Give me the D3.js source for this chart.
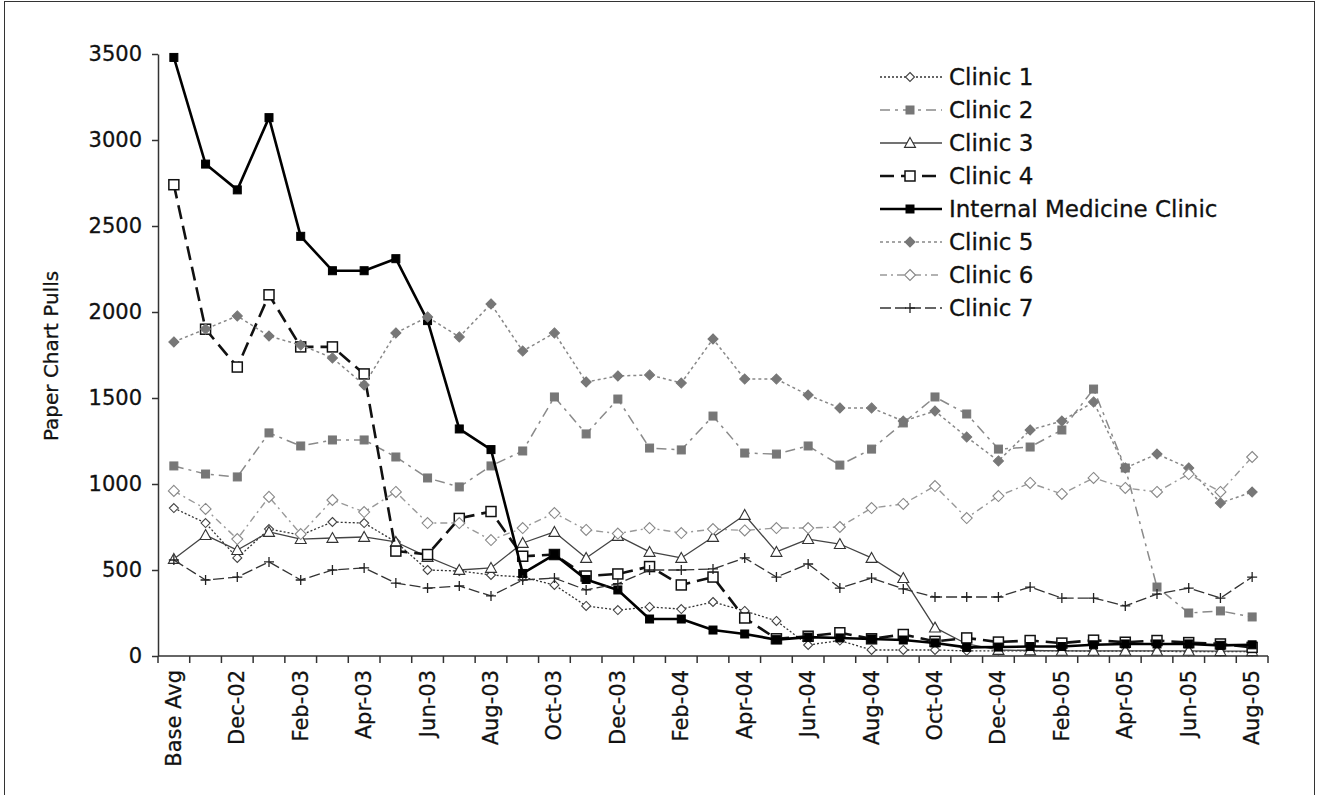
<!DOCTYPE html>
<html>
<head>
<meta charset="utf-8">
<script src="https://cdn.jsdelivr.net/npm/d3@7"></script>
<style>
  html, body { margin: 0; padding: 0; background: #fff; }
  svg { display: block; font-family: "DejaVu Sans", Verdana, sans-serif; }
</style>
</head>
<body>
<svg id="chart" width="1324" height="795"></svg>
<script>
// ---- data ----
const categories = ["Base Avg","Nov-02","Dec-02","Jan-03","Feb-03","Mar-03","Apr-03","May-03","Jun-03","Jul-03",
  "Aug-03","Sep-03","Oct-03","Nov-03","Dec-03","Jan-04","Feb-04","Mar-04","Apr-04","May-04","Jun-04","Jul-04",
  "Aug-04","Sep-04","Oct-04","Nov-04","Dec-04","Jan-05","Feb-05","Mar-05","Apr-05","May-05","Jun-05","Jul-05","Aug-05"];
const tickLabels = ["Base Avg","Dec-02","Feb-03","Apr-03","Jun-03","Aug-03","Oct-03","Dec-03","Feb-04","Apr-04",
  "Jun-04","Aug-04","Oct-04","Dec-04","Feb-05","Apr-05","Jun-05","Aug-05"];
const yTicks = [0, 500, 1000, 1500, 2000, 2500, 3000, 3500];

const clinic1 = [860,773,570,738,703,779,773,663,500,494,471,459,413,291,267,285,273,314,262,204,64,90,35,35,35,30,30,30,30,28,28,28,25,25,25];
const clinic2 = [1105,1058,1041,1297,1221,1256,1256,1157,1035,983,1105,1192,1506,1291,1494,1209,1198,1395,1180,1174,1221,1110,1203,1355,1506,1407,1203,1215,1314,1552,1093,401,250,262,227];
const clinic3 = [564,703,616,721,680,686,692,663,576,500,512,657,721,570,698,605,570,692,820,605,680,651,570,453,165,70,35,32,30,30,30,30,30,28,28];
const clinic4 = [2740,1900,1680,2100,1797,1797,1640,610,590,800,840,580,590,465,477,520,413,459,221,100,115,135,100,125,85,105,81,90,75,92,80,90,78,70,50];
const internalMed = [3480,2860,2710,3130,2440,2240,2240,2310,1950,1320,1200,480,590,445,384,215,215,151,128,95,110,105,99,93,76,50,52,55,55,65,70,70,70,62,65];
const clinic5 = [1826,1901,1977,1860,1808,1733,1576,1878,1971,1855,2047,1773,1878,1593,1628,1634,1587,1843,1610,1610,1517,1442,1442,1366,1424,1273,1134,1314,1366,1477,1093,1174,1093,890,953];
const clinic6 = [960,855,680,925,709,907,837,954,773,773,674,744,831,733,712,744,715,738,730,744,744,750,860,884,988,802,930,1006,942,1035,977,954,1058,954,1157];
const clinic7 = [558,442,459,547,442,500,512,424,395,407,349,442,453,384,420,500,500,506,570,459,535,395,453,390,343,343,343,401,337,337,291,360,395,337,459];

const seriesNames = ["Clinic 1","Clinic 2","Clinic 3","Clinic 4","Internal Medicine Clinic","Clinic 5","Clinic 6","Clinic 7"];
const seriesValues = [clinic1, clinic2, clinic3, clinic4, internalMed, clinic5, clinic6, clinic7];

// ---- styles ----
const styles = [
  {stroke:"#333", width:1.3, dash:"2,2", marker:"diamond", size:4.5, fill:"#fff", mstroke:"#444"},
  {stroke:"#8a8a8a", width:1.5, dash:"10,5,3,5", marker:"square", size:8, fill:"#777", mstroke:"#777"},
  {stroke:"#444", width:1.3, dash:null, marker:"triangle", size:5.5, fill:"#fff", mstroke:"#333"},
  {stroke:"#111", width:2.6, dash:"14,7", marker:"square", size:10, fill:"#fff", mstroke:"#111"},
  {stroke:"#000", width:2.6, dash:null, marker:"square", size:8, fill:"#000", mstroke:"#000"},
  {stroke:"#888", width:1.5, dash:"3,3", marker:"diamond", size:5, fill:"#777", mstroke:"#777"},
  {stroke:"#999", width:1.4, dash:"7,4,2,4", marker:"diamond", size:5.5, fill:"#fff", mstroke:"#888"},
  {stroke:"#333", width:1.3, dash:"11,4", marker:"plus", size:5, fill:"none", mstroke:"#222"}
];

const svg = d3.select("#chart");
// frame
svg.append("rect").attr("x",4.5).attr("y",1.5).attr("width",1310).attr("height",800)
  .attr("fill","none").attr("stroke","#333").attr("stroke-width",1);

const plotLeft = 158, plotRight = 1268, plotTop = 54, plotBottom = 656;
const x = d3.scaleBand().domain(categories).range([plotLeft, plotRight]);
const y = d3.scaleLinear().domain([0, 3500]).range([plotBottom, plotTop]);

// y axis
const yAxis = svg.append("g").attr("transform", `translate(${plotLeft},0)`)
  .call(d3.axisLeft(y).tickValues(yTicks).tickSize(6).tickSizeOuter(0).tickPadding(10).tickFormat(d3.format("d")));
yAxis.selectAll("path").attr("stroke","#333").attr("stroke-width",1.5);
yAxis.selectAll("line").attr("stroke","#333").attr("stroke-width",1.5);
yAxis.selectAll("text").attr("font-size",21).attr("fill","#111").attr("font-family","DejaVu Sans")
  .attr("stroke","#111").attr("stroke-width",0.3);

// x axis
const xAxisG = svg.append("g").attr("transform", `translate(0,${plotBottom})`);
xAxisG.append("line").attr("x1",plotLeft).attr("x2",plotRight).attr("y1",0).attr("y2",0)
  .attr("stroke","#333").attr("stroke-width",1.5);
const boundaries = categories.map(c => x(c)).concat([plotRight]);
xAxisG.selectAll("line.tk").data(boundaries).join("line").attr("class","tk")
  .attr("x1",d=>d).attr("x2",d=>d).attr("y1",0).attr("y2",7)
  .attr("stroke","#333").attr("stroke-width",1.5);
xAxisG.selectAll("text.tl").data(tickLabels).join("text").attr("class","tl")
  .attr("transform", d => `translate(${x(d) + x.bandwidth()/2 + 7},14) rotate(-90)`)
  .attr("text-anchor","end").attr("font-size",21).attr("fill","#111")
  .attr("stroke","#111").attr("stroke-width",0.3).text(d=>d);

// y title
svg.append("text").attr("transform","translate(58,356) rotate(-90)")
  .attr("text-anchor","middle").attr("font-size",20).attr("fill","#111")
  .attr("stroke","#111").attr("stroke-width",0.3).text("Paper Chart Pulls");

// markers
function drawMarker(g, type, size, st) {
  if (type === "square") {
    g.append("rect").attr("x",-size/2).attr("y",-size/2).attr("width",size).attr("height",size)
      .attr("fill",st.fill).attr("stroke",st.mstroke).attr("stroke-width", st.fill === "#fff" ? 1.5 : 1);
  } else if (type === "diamond") {
    g.append("path").attr("d",`M0,${-size}L${size},0L0,${size}L${-size},0Z`)
      .attr("fill",st.fill).attr("stroke",st.mstroke).attr("stroke-width",1.1);
  } else if (type === "triangle") {
    g.append("path").attr("d",`M0,${-size}L${size},${size*0.8}L${-size},${size*0.8}Z`)
      .attr("fill",st.fill).attr("stroke",st.mstroke).attr("stroke-width",1.1);
  } else if (type === "plus") {
    g.append("path").attr("d",`M${-size},0H${size}M0,${-size}V${size}`)
      .attr("stroke",st.mstroke).attr("stroke-width",1.3).attr("fill","none");
  }
}

const cx = c => x(c) + x.bandwidth()/2;
const line = d3.line().x((d,i) => cx(categories[i])).y(d => y(d));

seriesValues.forEach((vals, si) => {
  const st = styles[si];
  const g = svg.append("g");
  const p = g.append("path").datum(vals).attr("d", line).attr("fill","none")
    .attr("stroke", st.stroke).attr("stroke-width", st.width).attr("stroke-linejoin","round");
  if (st.dash) p.attr("stroke-dasharray", st.dash);
  vals.forEach((v, i) => {
    const mg = g.append("g").attr("transform", `translate(${cx(categories[i])},${y(v)})`);
    drawMarker(mg, st.marker, st.size, st);
  });
});

// legend
const lg = svg.append("g").attr("transform","translate(880,77)");
seriesNames.forEach((name, i) => {
  const st = styles[i];
  const row = lg.append("g").attr("transform", `translate(0,${i*33})`);
  const l = row.append("line").attr("x1",0).attr("x2",62).attr("y1",0).attr("y2",0)
    .attr("stroke",st.stroke).attr("stroke-width",st.width);
  if (st.dash) l.attr("stroke-dasharray", st.dash);
  const mg = row.append("g").attr("transform","translate(30,0)");
  drawMarker(mg, st.marker, st.size, st);
  row.append("text").attr("x",69).attr("y",8).attr("font-size",23).attr("fill","#111")
    .attr("stroke","#111").attr("stroke-width",0.3).text(name);
});
</script>
</body>
</html>
